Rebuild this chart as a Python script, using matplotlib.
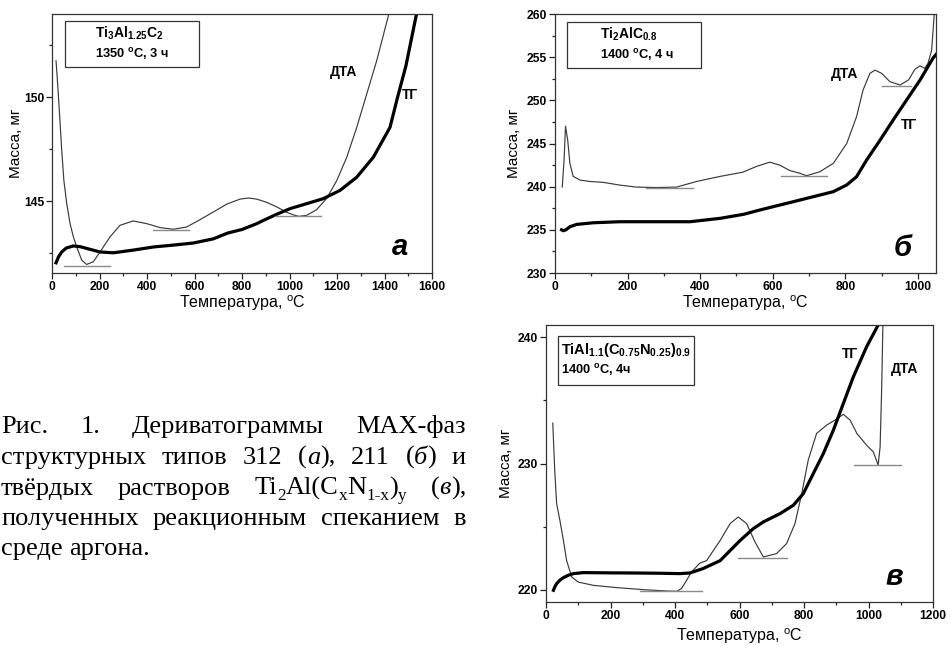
import matplotlib
matplotlib.use("Agg")
import matplotlib.pyplot as plt
from matplotlib.patches import Rectangle
from matplotlib.ticker import MultipleLocator

plt.rcParams["font.family"] = ["Liberation Sans", "DejaVu Sans"]
plt.rcParams["mathtext.fontset"] = "custom"
plt.rcParams["mathtext.rm"] = "Liberation Sans"
plt.rcParams["mathtext.it"] = "Liberation Sans:italic"
plt.rcParams["mathtext.bf"] = "Liberation Sans:bold"

# --- panel a: Ti3Al1.25C2, 1350 C, 3 h ---
a_tg_t = [17, 28, 41, 60, 90, 120, 146, 202, 258, 342, 427, 511, 595, 679, 740,
          800, 860, 900, 950, 1002, 1072, 1142, 1213, 1283, 1353, 1423, 1455, 1490, 1533, 1545]
a_tg_m = [142.05, 142.35, 142.57, 142.76, 142.86, 142.82, 142.74, 142.57, 142.53, 142.66,
          142.81, 142.9, 143.0, 143.2, 143.48, 143.65, 143.92, 144.14, 144.4, 144.65,
          144.89, 145.13, 145.53, 146.16, 147.12, 148.55, 150.0, 151.5, 153.9, 154.5]
a_dta_t = [17, 22, 31, 41, 50, 62, 76, 90, 104, 125, 146, 174, 202, 244, 286, 342, 399,
           455, 511, 567, 623, 679, 736, 792, 827, 862, 905, 947, 989, 1017, 1040, 1072,
           1114, 1157, 1199, 1241, 1283, 1325, 1367, 1416, 1425]
a_dta_m = [151.75, 150.95, 149.35, 147.44, 146.0, 144.9, 143.93, 143.3, 142.81, 142.18,
           141.97, 142.1, 142.57, 143.29, 143.85, 144.06, 143.93, 143.74, 143.66, 143.77,
           144.12, 144.49, 144.87, 145.11, 145.16, 145.11, 144.95, 144.73, 144.47, 144.35,
           144.28, 144.33, 144.6, 145.15, 146.0, 147.12, 148.55, 150.15, 151.75, 153.9, 154.5]
a_base = [(52, 244, 141.92), (424, 577, 143.64), (940, 1132, 144.28)]

# --- panel b: Ti2AlC0.8, 1400 C, 4 h ---
b_tg_t = [18, 23, 30, 41, 60, 106, 179, 271, 372, 455, 520, 565, 601, 657, 712, 767,
          804, 831, 859, 896, 932, 969, 1006, 1042, 1052]
b_tg_m = [235.0, 234.9, 235.0, 235.36, 235.63, 235.82, 235.94, 235.94, 235.94, 236.33,
          236.8, 237.3, 237.68, 238.26, 238.84, 239.42, 240.2, 241.15, 243.1, 245.4,
          247.72, 250.04, 252.35, 254.9, 255.4]
b_dta_t = [20, 25, 29, 35, 41, 50, 69, 96, 133, 179, 225, 280, 335, 390, 454, 518, 555,
           592, 619, 647, 675, 693, 730, 767, 804, 831, 849, 868, 882, 900, 923, 951,
           974, 992, 1006, 1019, 1028, 1038, 1042, 1046]
b_dta_m = [239.95, 243.1, 247.0, 245.4, 242.7, 241.2, 240.76, 240.6, 240.5, 240.18,
           239.95, 239.9, 239.95, 240.6, 241.18, 241.68, 242.34, 242.84, 242.5, 241.87,
           241.55, 241.27, 241.73, 242.7, 245.0, 248.1, 251.2, 253.13, 253.5, 253.13,
           252.16, 251.78, 252.35, 253.6, 254.0, 253.7, 254.3, 255.8, 258.15, 260.5]
b_base = [(252, 381, 239.85), (622, 749, 241.25), (900, 980, 251.7)]

# --- panel v: TiAl1.1(C0.75N0.25)0.9, 1400 C, 4 h ---
v_tg_t = [23, 28, 33, 43, 54, 70, 85, 116, 200, 271, 350, 415, 446, 487, 540, 571, 602,
          643, 674, 726, 767, 798, 829, 860, 891, 922, 953, 994, 1030, 1040]
v_tg_m = [219.95, 220.25, 220.48, 220.75, 220.95, 221.15, 221.27, 221.35, 221.33, 221.32,
          221.3, 221.27, 221.32, 221.67, 222.3, 223.1, 223.9, 224.84, 225.37, 226.03,
          226.69, 227.62, 229.21, 230.79, 232.64, 234.76, 236.87, 239.25, 240.98, 241.6]
v_dta_t = [21, 27, 33, 43, 54, 64, 80, 100, 147, 219, 302, 374, 405, 420, 436, 451, 477,
           498, 540, 571, 596, 622, 648, 674, 715, 746, 772, 793, 813, 839, 870, 896,
           922, 943, 964, 994, 1015, 1030, 1036, 1041, 1045]
v_dta_m = [233.2, 229.5, 226.8, 225.5, 223.9, 222.3, 221.0, 220.6, 220.34, 220.16, 220.0,
           219.89, 219.87, 220.08, 220.74, 221.4, 222.1, 222.3, 223.9, 225.24, 225.76,
           225.24, 223.78, 222.59, 222.86, 223.65, 225.24, 227.62, 230.26, 232.38, 233.04,
           233.44, 233.9, 233.44, 232.38, 231.45, 230.92, 229.87, 231.32, 236.08, 241.5]
v_base = [(291, 483, 219.87), (596, 748, 222.54), (955, 1100, 229.87)]

XLABEL = "Температура, $^{\\mathrm{o}}$C"
YLABEL = "Масса, мг"

fig = plt.figure(figsize=(9.51, 6.45), dpi=100)
W, H = 951, 645


def add_panel(px):
    # px = (left, top, right, bottom) in pixels
    l, t, r, b = px
    return fig.add_axes([l / W, 1 - b / H, (r - l) / W, (b - t) / H])


def style(ax, xlim, ylim, xmaj, ymaj, ymin, xpad, ypad):
    ax.set_xlim(xlim)
    ax.set_ylim(ylim)
    ax.xaxis.set_major_locator(MultipleLocator(xmaj))
    ax.xaxis.set_minor_locator(MultipleLocator(xmaj / 2))
    ax.yaxis.set_major_locator(MultipleLocator(ymaj))
    ax.yaxis.set_minor_locator(MultipleLocator(ymin))
    ax.tick_params(which="both", direction="out", labelsize=8.7, width=0.9,
                   color="#222222", pad=1.5)
    ax.tick_params(which="major", length=4)
    ax.tick_params(which="minor", length=2.5)
    for lab in ax.get_xticklabels() + ax.get_yticklabels():
        lab.set_fontweight("bold")
    for sp in ax.spines.values():
        sp.set_linewidth(0.9)
        sp.set_color("#333333")
    ax.set_xlabel(XLABEL, fontsize=11.5, labelpad=xpad)
    ax.set_ylabel(YLABEL, fontsize=11, labelpad=ypad)


def draw(ax, tg_t, tg_m, dta_t, dta_m, base):
    ax.plot(dta_t, dta_m, color="#3a3a3a", lw=0.85)
    ax.plot(tg_t, tg_m, color="black", lw=2.3)
    for x0, x1, y in base:
        ax.plot([x0, x1], [y, y], color="#8a8a8a", lw=1.0)


def box(ax, rect, line1, line2, tx, ty1, ty2, size=9.3):
    ax.add_patch(Rectangle((rect[0], rect[1]), rect[2] - rect[0], rect[3] - rect[1],
                           transform=ax.transAxes, fill=False, lw=0.9,
                           edgecolor="#333333"))
    ax.text(tx, ty1, line1, transform=ax.transAxes, fontsize=size, ha="left",
            va="center", fontweight="bold")
    ax.text(tx, ty2, line2, transform=ax.transAxes, fontsize=9.3, ha="left",
            va="center", fontweight="bold")


lab_kw = dict(fontsize=10, fontweight="bold", ha="center", va="center")
let_kw = dict(fontsize=21, fontweight="bold", fontstyle="italic", ha="center",
              va="center")

# panel a
ax1 = add_panel((52, 14, 432, 273))
draw(ax1, a_tg_t, a_tg_m, a_dta_t, a_dta_m, a_base)
style(ax1, (0, 1600), (141.56, 154), 200, 5, 2.5, 0.5, 0.5)
box(ax1, (0.034, 0.796, 0.386, 0.973), r"$\mathbf{Ti_3Al_{1.25}C_2}$",
    "1350 $^{\\mathbf{o}}$C, 3 ч", 0.113, 0.924, 0.847, size=10)
ax1.text(1227, 151.2, "ДТА", **lab_kw)
ax1.text(1507, 150.1, "ТГ", **lab_kw)
ax1.text(1465, 142.8, "а", **let_kw)

# panel b
ax2 = add_panel((555, 14, 936, 273))
draw(ax2, b_tg_t, b_tg_m, b_dta_t, b_dta_m, b_base)
style(ax2, (0, 1050), (230, 260), 200, 5, 2.5, 0.5, 4)
box(ax2, (0.032, 0.793, 0.384, 0.970), r"$\mathbf{Ti_2AlC_{0.8}}$",
    "1400 $^{\\mathbf{o}}$C, 4 ч", 0.118, 0.92, 0.843, size=10)
ax2.text(799, 253.1, "ДТА", **lab_kw)
ax2.text(976, 247.1, "ТГ", **lab_kw)
ax2.text(959, 232.9, "б", **let_kw)

# panel v
ax3 = add_panel((546, 325, 933, 602))
draw(ax3, v_tg_t, v_tg_m, v_dta_t, v_dta_m, v_base)
style(ax3, (0, 1200), (219.02, 240.98), 200, 10, 5, 3.5, 3.5)
box(ax3, (0.032, 0.785, 0.383, 0.959), r"$\mathbf{TiAl_{1.1}(C_{0.75}N_{0.25})_{0.9}}$",
    "1400 $^{\\mathbf{o}}$C, 4ч", 0.040, 0.909, 0.839, size=10.5)
ax3.text(943, 238.7, "ТГ", **lab_kw)
ax3.text(1113, 237.5, "ДТА", **lab_kw)
ax3.text(1081, 221.0, "в", **let_kw)

# caption, justified like the source page
CAP_SIZE = 19
cap_lines = [
    [[("Рис.", "n")], [("1.", "n")], [("Дериватограммы", "n")], [("MAX-фаз", "n")]],
    [[("структурных", "n")], [("типов", "n")], [("312", "n")],
     [("(", "n"), ("а", "i"), ("),", "n")], [("211", "n")],
     [("(", "n"), ("б", "i"), (")", "n")], [("и", "n")]],
    [[("твёрдых", "n")], [("растворов", "n")],
     [("Ti", "n"), ("2", "s"), ("Al(C", "n"), ("x", "s"), ("N", "n"), ("1-x", "s"),
      (")", "n"), ("y", "s")],
     [("(", "n"), ("в", "i"), ("),", "n")]],
    [[("полученных", "n")], [("реакционным", "n")], [("спеканием", "n")], [("в", "n")]],
    [[("среде", "n")], [("аргона.", "n")]],
]
cap_base = [433, 464, 494.5, 525, 555.5]
cap_left, cap_right = 1, 466

renderer = fig.canvas.get_renderer()


def seg_props(kind):
    size = CAP_SIZE * 0.65 if kind == "s" else CAP_SIZE
    return dict(fontsize=size, family=["Liberation Serif", "DejaVu Serif"],
                fontstyle="italic" if kind == "i" else "normal")


def seg_width(txt, kind):
    t = fig.text(0, 0, txt, **seg_props(kind))
    w = t.get_window_extent(renderer).width
    t.remove()
    return w


space_w = seg_width("a a", "n") - seg_width("aa", "n")
for i, words in enumerate(cap_lines):
    widths = [sum(seg_width(s, k) for s, k in wd) for wd in words]
    last = i == len(cap_lines) - 1
    gap = space_w if last else (cap_right - cap_left - sum(widths)) / (len(words) - 1)
    x = cap_left
    for wd, wdw in zip(words, widths):
        xx = x
        for s, k in wd:
            y = cap_base[i] + (CAP_SIZE * 100 / 72 * 0.2 if k == "s" else 0)
            fig.text(xx / W, 1 - y / H, s, va="baseline", ha="left", **seg_props(k))
            xx += seg_width(s, k)
        x += wdw + gap

fig.savefig("out.png", dpi=100)
